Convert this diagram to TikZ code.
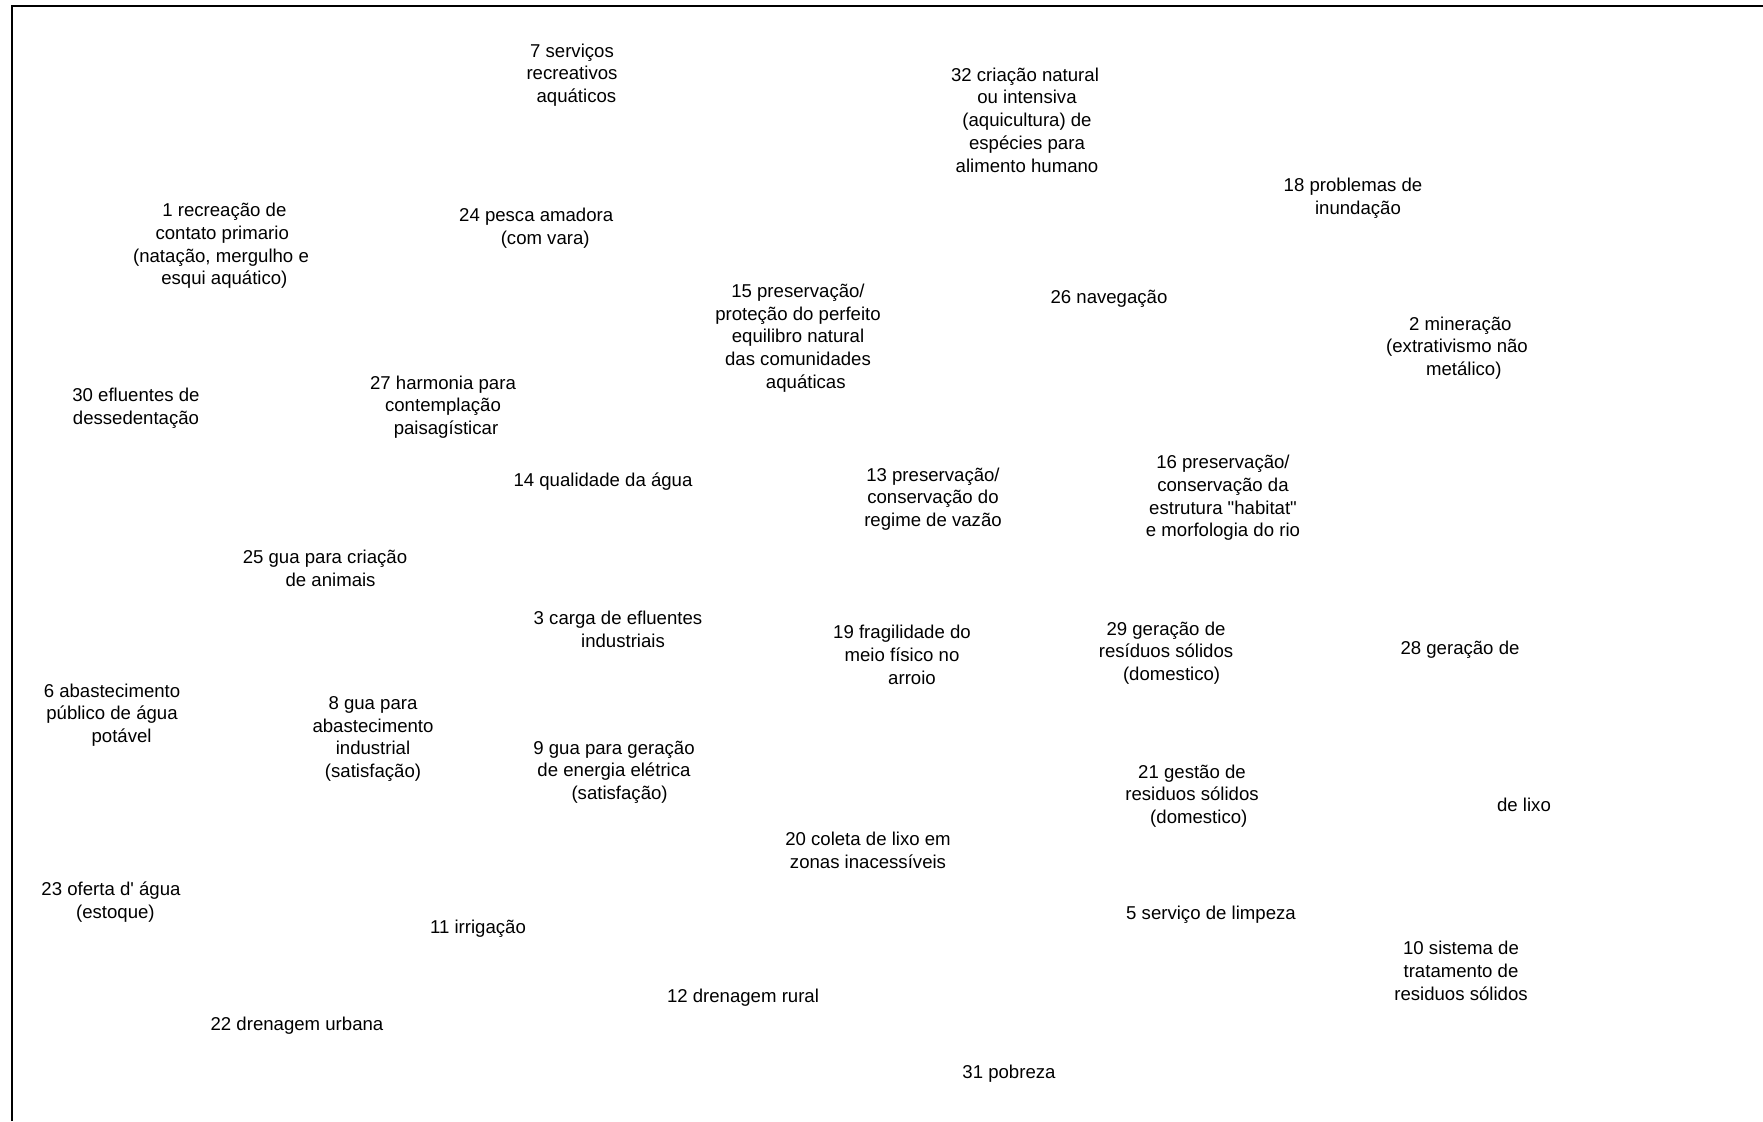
\documentclass[tikz,border=0pt]{standalone}
\usepackage{fontspec}
\setmainfont{Liberation Sans}[Ligatures=TeXOff]
\usetikzlibrary{positioning}
% desloca uma linha do rotulo sem mudar a largura
\newcommand{\desloca}[2]{\leavevmode\hbox{\kern#1\relax#2\kern-#1\relax}}

\begin{document}
\begin{tikzpicture}[x=0.5pt, y=-0.5pt,
  rotulo/.style={align=center, inner sep=0pt, font=\fontsize{9.3}{11.35}\selectfont}]
\useasboundingbox (0,0) rectangle (1763,1121);
% moldura (so topo e esquerda)
\draw[line width=1pt] (12,1121) -- (12,6) -- (1763,6);

\node[rotulo] (servicos) at (572,75) {7 serviços\\recreativos\\\desloca{2.2pt}{aquáticos}};
\node[rotulo] (aquicultura) at (1027,120) {\desloca{-1pt}{32 criação natural}\\ou intensiva\\(aquicultura) de\\espécies para\\alimento humano};
\node[rotulo] (inundacao) at (1358,198) {\desloca{-2.5pt}{18 problemas de}\\inundação};
\node[rotulo] (recreacao) at (221,246) {\desloca{1.7pt}{1 recreação de}\\\desloca{0.6pt}{contato primario}\\(natação, mergulho e\\\desloca{1.7pt}{esqui aquático)}};
\node[rotulo] (pesca) at (539,228) {\desloca{-1.4pt}{24 pesca amadora}\\\desloca{3.1pt}{(com vara)}};
\node[rotulo] (equilibrio) at (798,338) {15 preservação/\\proteção do perfeito\\equilibro natural\\das comunidades\\\desloca{3.9pt}{aquáticas}};
\node[rotulo] (navegacao) at (1109,299) {26 navegação};
\node[rotulo] (mineracao) at (1457,348) {\desloca{1.7pt}{2 mineração}\\(extrativismo não\\\desloca{3.4pt}{metálico)}};
\node[rotulo] (dessedentacao) at (136,408) {30 efluentes de\\dessedentação};
\node[rotulo] (harmonia) at (443,407) {27 harmonia para\\contemplação\\\desloca{1.5pt}{paisagísticar}};
\node[rotulo] (qualidade) at (603,482) {14 qualidade da água};
\node[rotulo] (vazao) at (933,499) {13 preservação/\\conservação do\\regime de vazão};
\node[rotulo] (habitat) at (1223,498) {16 preservação/\\conservação da\\estrutura "habitat"\\e morfologia do rio};
\node[rotulo] (animais) at (325,568) {25 gua para criação\\\desloca{2.8pt}{de animais}};
\node[rotulo] (efluentes) at (618,629) {3 carga de efluentes\\\desloca{2.5pt}{industriais}};
\node[rotulo] (fragilidade) at (902,655) {19 fragilidade do\\meio físico no\\\desloca{5pt}{arroio}};
\node[rotulo] (residuos) at (1166,653) {29 geração de\\resíduos sólidos\\\desloca{2.8pt}{(domestico)}};
\node[rotulo] (geracao) at (1460,650) {28 geração de};
\node[rotulo] (lixo) at (1524,805) {de lixo};
\node[rotulo] (abastecimento) at (112,715) {6 abastecimento\\público de água\\\desloca{4.8pt}{potável}};
\node[rotulo] (industrial) at (373,739) {8 gua para\\abastecimento\\industrial\\(satisfação)};
\node[rotulo] (energia) at (614,772) {9 gua para geração\\de energia elétrica\\\desloca{2.8pt}{(satisfação)}};
\node[rotulo] (gestao) at (1192,796) {21 gestão de\\residuos sólidos\\\desloca{3.4pt}{(domestico)}};
\node[rotulo] (coleta) at (868,850) {20 coleta de lixo em\\zonas inacessíveis};
\node[rotulo] (oferta) at (111,902) {23 oferta d' água\\\desloca{2.2pt}{(estoque)}};
\node[rotulo] (irrigacao) at (478,929) {11 irrigação};
\node[rotulo] (limpeza) at (1211,915) {5 serviço de limpeza};
\node[rotulo] (tratamento) at (1461,971) {10 sistema de\\tratamento de\\residuos sólidos};
\node[rotulo] (rural) at (743,998) {12 drenagem rural};
\node[rotulo] (urbana) at (297,1026) {22 drenagem urbana};
\node[rotulo] (pobreza) at (1009,1074) {31 pobreza};
\end{tikzpicture}
\end{document}
